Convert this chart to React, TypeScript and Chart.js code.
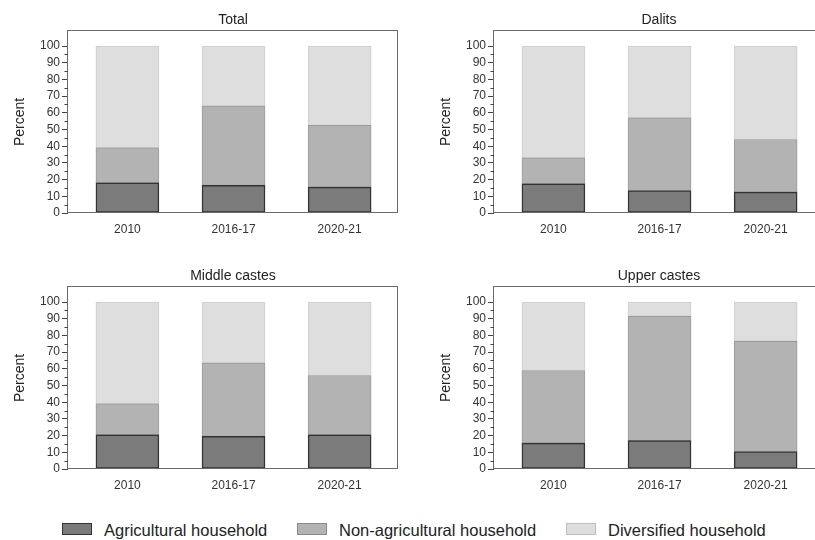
import React, { useEffect, useRef } from "react";
import { Chart, registerables } from "chart.js";

Chart.register(...registerables);

// ---- data ----
const categories = ["2010", "2016-17", "2020-21"];
const seriesNames = ["Agricultural household", "Non-agricultural household", "Diversified household"];

const totalAgricultural = [18, 16.5, 15.5];
const totalNonAgricultural = [21, 47.5, 37];
const totalDiversified = [61, 36, 47.5];

const dalitsAgricultural = [17.5, 13.5, 12.5];
const dalitsNonAgricultural = [15.5, 43.5, 31.5];
const dalitsDiversified = [67, 43, 56];

const middleAgricultural = [20.5, 19.5, 20.5];
const middleNonAgricultural = [18.5, 44, 35.5];
const middleDiversified = [61, 36.5, 44];

const upperAgricultural = [15.5, 17, 10.5];
const upperNonAgricultural = [43.5, 74.5, 66];
const upperDiversified = [41, 8.5, 23.5];

const yTicks = [0, 10, 20, 30, 40, 50, 60, 70, 80, 90, 100];
const yMinorTicks = [5, 15, 25, 35, 45, 55, 65, 75, 85, 95];

// ---- styling ----
const FONT = "'Liberation Sans', Arial, Helvetica, sans-serif";
const fills = ["#7b7b7b", "#b3b3b3", "#dedede"];
const borders = ["#333333", "#9a9a9a", "#cdcdcd"];
const borderWidths = [1.5, 1, 1];
const legendBorders = ["#333333", "#8a8a8a", "#bdbdbd"];

const panels = [
  { title: "Total", series: [totalAgricultural, totalNonAgricultural, totalDiversified], left: 0, top: 0 },
  { title: "Dalits", series: [dalitsAgricultural, dalitsNonAgricultural, dalitsDiversified], left: 426, top: 0 },
  { title: "Middle castes", series: [middleAgricultural, middleNonAgricultural, middleDiversified], left: 0, top: 256 },
  { title: "Upper castes", series: [upperAgricultural, upperNonAgricultural, upperDiversified], left: 426, top: 256 },
];

const CANVAS_W = 420;
const CANVAS_H = 245;

// Draws the panel title, the plot frame and the minor y ticks.
const panelDecor = {
  id: "panelDecor",
  afterDraw(chart: any, _args: any, opts: any) {
    const { ctx, chartArea: a, scales } = chart;
    ctx.save();
    // frame
    ctx.strokeStyle = "#6a6a6a";
    ctx.lineWidth = 1;
    ctx.strokeRect(a.left - 0.5, a.top - 0.5, a.right - a.left, a.bottom - a.top);
    // minor ticks
    ctx.strokeStyle = "#444444";
    ctx.beginPath();
    for (const v of yMinorTicks) {
      const y = Math.round(scales.y.getPixelForValue(v)) + 0.5;
      ctx.moveTo(a.left - 3.5, y);
      ctx.lineTo(a.left, y);
    }
    ctx.stroke();
    // title
    ctx.fillStyle = "#222222";
    ctx.font = `14px ${FONT}`;
    ctx.textAlign = "center";
    ctx.textBaseline = "middle";
    ctx.fillText(opts.title, (a.left + a.right) / 2, 20);
    ctx.restore();
  },
};

function Panel({ title, series, left, top }: { title: string; series: number[][]; left: number; top: number }) {
  const ref = useRef<HTMLCanvasElement | null>(null);

  useEffect(() => {
    if (!ref.current) return;
    const chart = new Chart(ref.current, {
      type: "bar",
      data: {
        datasets: series.map((values, s) => ({
          label: seriesNames[s],
          data: values.map((v, i) => ({ x: i, y: v })),
          backgroundColor: fills[s],
          borderColor: borders[s],
          borderWidth: borderWidths[s],
          borderSkipped: false,
          barThickness: 63,
          stack: "households",
        })),
      },
      options: {
        responsive: false,
        animation: false,
        events: [],
        layout: { padding: { top: 31, right: 22, left: 0, bottom: 0 } },
        plugins: {
          legend: { display: false },
          tooltip: { enabled: false },
          title: { display: false },
          panelDecor: { title },
        } as any,
        scales: {
          x: {
            type: "linear",
            stacked: true,
            offset: false,
            min: -0.56,
            max: 2.55,
            grid: { display: false, drawTicks: false, offset: false },
            border: { display: false },
            afterBuildTicks: (scale: any) => {
              scale.ticks = categories.map((_, i) => ({ value: i }));
            },
            afterFit: (scale: any) => {
              scale.height = 32;
            },
            ticks: {
              autoSkip: false,
              padding: 9,
              color: "#333333",
              font: { family: FONT, size: 12 },
              callback: (v: any) => categories[v as number] ?? "",
            },
          },
          y: {
            type: "linear",
            stacked: true,
            min: 0,
            max: 109,
            grid: {
              display: true,
              drawOnChartArea: false,
              drawTicks: true,
              tickLength: 6,
              color: "#444444",
            },
            border: { display: false },
            afterBuildTicks: (scale: any) => {
              scale.ticks = yTicks.map((v) => ({ value: v }));
            },
            afterFit: (scale: any) => {
              scale.width = 68;
            },
            ticks: {
              padding: 2,
              color: "#333333",
              font: { family: FONT, size: 12 },
            },
            title: {
              display: true,
              text: "Percent",
              color: "#222222",
              font: { family: FONT, size: 14 },
              padding: { top: 11.6, bottom: 0 },
            },
          },
        },
      },
      plugins: [panelDecor],
    } as any);
    return () => chart.destroy();
  }, [title, series]);

  return (
    <canvas
      ref={ref}
      width={CANVAS_W}
      height={CANVAS_H}
      style={{ position: "absolute", left, top, width: CANVAS_W, height: CANVAS_H }}
    />
  );
}

const legendBoxLefts = [62, 297, 566];

function Legend() {
  return (
    <>
      {seriesNames.map((name, i) => (
        <React.Fragment key={name}>
          <div
            style={{
              position: "absolute",
              left: legendBoxLefts[i],
              top: 523,
              width: 30,
              height: 12,
              boxSizing: "border-box",
              background: fills[i],
              border: `1.5px solid ${legendBorders[i]}`,
            }}
          />
          <div
            style={{
              position: "absolute",
              left: legendBoxLefts[i] + 42,
              top: 520,
              height: 20,
              lineHeight: "20px",
              fontFamily: FONT,
              fontSize: 16.5,
              color: "#222222",
              whiteSpace: "nowrap",
            }}
          >
            {name}
          </div>
        </React.Fragment>
      ))}
    </>
  );
}

export default function App() {
  return (
    <div
      style={{
        position: "fixed",
        left: 0,
        top: 0,
        width: 815,
        height: 540,
        overflow: "hidden",
        background: "#ffffff",
      }}
    >
      {panels.map((p) => (
        <Panel key={p.title} title={p.title} series={p.series} left={p.left} top={p.top} />
      ))}
      <Legend />
    </div>
  );
}
